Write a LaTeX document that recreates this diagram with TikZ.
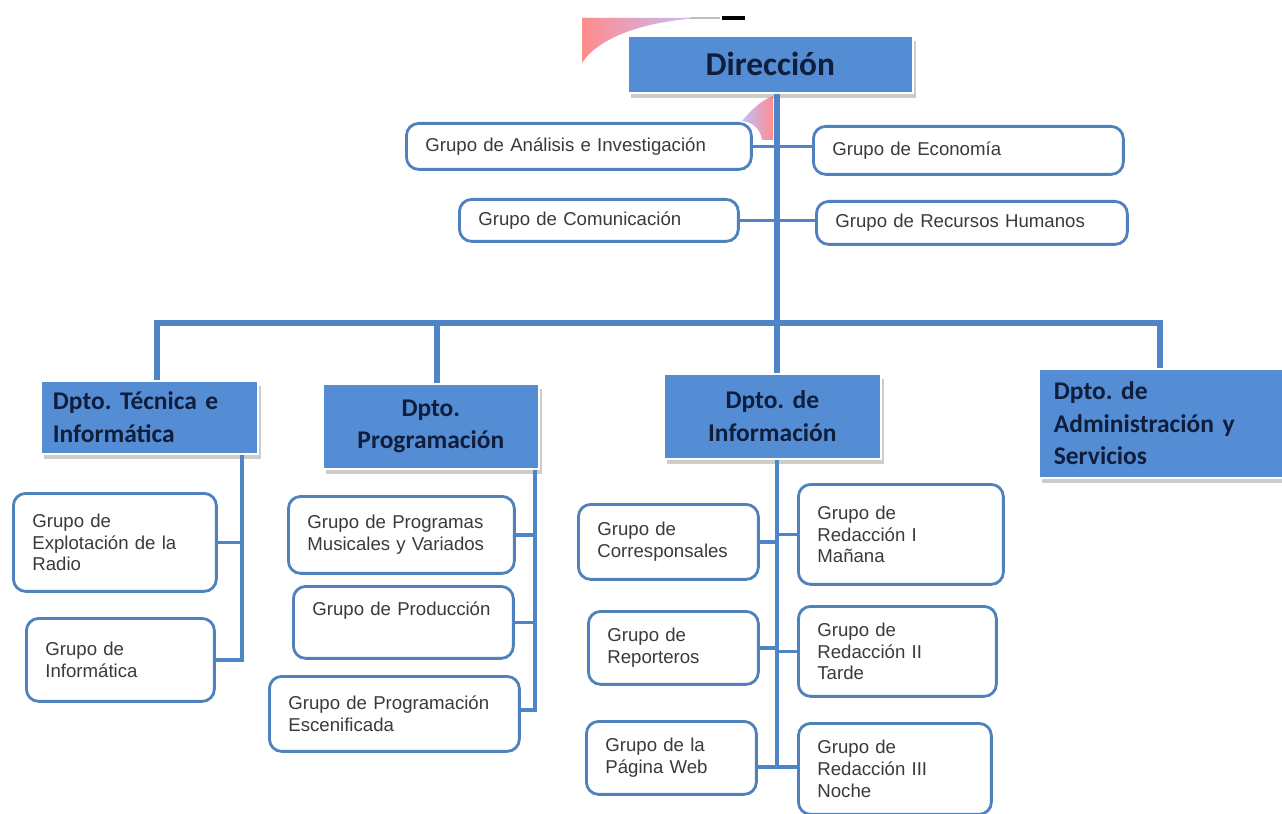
\documentclass[tikz,border=0pt]{standalone}
\usepackage{fontspec}
\setmainfont{Liberation Sans}
\newfontfamily\dptofont{Carlito}
\usetikzlibrary{shadows}
\definecolor{azulcaja}{RGB}{84,141,212}
\definecolor{azullinea}{RGB}{79,132,200}
\definecolor{bordegrupo}{RGB}{79,129,189}
\definecolor{textodpto}{RGB}{16,30,60}
\definecolor{textogrupo}{RGB}{58,58,58}
\frenchspacing
\begin{document}
\begin{tikzpicture}[x=0.02cm,y=-0.02cm,
  grupo/.style={draw=bordegrupo,line width=1.6pt,rounded corners=7pt,fill=white,anchor=north west,align=left,inner xsep=0.38cm,inner ysep=0pt,text=textogrupo,font=\fontsize{10.6}{12.4}\selectfont},
  dpto/.style={fill=azulcaja,draw=white,line width=1pt,anchor=north west,inner xsep=0.24cm,inner ysep=0pt,text=textodpto,font=\dptofont\bfseries\fontsize{14.5}{18.5}\selectfont,drop shadow={shadow xshift=2pt,shadow yshift=-3pt,opacity=0.4}},
  tronco/.style={draw=azullinea,line width=3.4pt},
  rama/.style={draw=azullinea,line width=2pt}]
\useasboundingbox (0,0) rectangle (1282,814);
\shade[left color=red!45,right color=blue!25!white] (582,18) -- (700,18) .. controls (650,21) and (600,35) .. (582,63) -- cycle;
\draw[gray!50,line width=0.6pt] (690,18) -- (720,18); \fill[black] (722,16) rectangle (745,20);
\shade[left color=blue!25!white,right color=red!45] (742,121) .. controls (752,109) and (762,100) .. (773,96) -- (773,140) -- (762,140) .. controls (761,130) and (753,122) .. (742,121) -- cycle;
\node[dpto,minimum width=5.7cm,minimum height=1.14cm,font=\dptofont\bfseries\fontsize{19}{22}\selectfont] (dir) at (627,35) {Dirección};
\node[grupo,text width=6.14cm,minimum height=0.92cm] (analisis) at (405,122) {Grupo de Análisis e Investigación};
\node[grupo,text width=5.44cm,minimum height=0.96cm] (economia) at (812,125) {Grupo de Economía};
\node[grupo,text width=4.82cm,minimum height=0.84cm] (comunic) at (458,198) {Grupo de Comunicación};
\node[grupo,text width=5.46cm,minimum height=0.86cm] (rrhh) at (815,200) {Grupo de Recursos Humanos};
\node[dpto,align=left,text width=3.86cm,minimum height=1.46cm] (tecnica) at (40,380) {Dpto. Técnica e\\Informática};
\node[dpto,align=center,text width=3.84cm,minimum height=1.7cm] (program) at (322,383) {Dpto.\\Programación};
\node[dpto,align=center,text width=3.86cm,minimum height=1.7cm] (info) at (663,373) {Dpto. de\\Información};
\node[dpto,align=left,inner xsep=0.3cm,text width=4.6cm,minimum height=2.18cm] (admin) at (1038,368) {Dpto. de\\Administración y\\Servicios};
\node[grupo,text width=3.3cm,minimum height=1.96cm] (explot) at (12,492) {Grupo de\\Explotación de la\\Radio};
\node[grupo,text width=3.0cm,minimum height=1.66cm] (informat) at (25,617) {Grupo de\\Informática};
\node[grupo,text width=3.76cm,minimum height=1.54cm] (musicales) at (287,495) {Grupo de Programas\\Musicales y Variados};
\node[grupo,text width=3.64cm,minimum height=1.44cm] (produccion) at (292,585) {Grupo de Producción\\\strut};
\node[grupo,text width=4.24cm,minimum height=1.5cm] (escenif) at (268,675) {Grupo de Programación\\Escenificada};
\node[grupo,text width=2.84cm,minimum height=1.5cm] (corresp) at (577,503) {Grupo de\\Corresponsales};
\node[grupo,text width=3.34cm,minimum height=2.0cm] (redI) at (797,483) {Grupo de\\Redacción I\\Mañana};
\node[grupo,text width=2.64cm,minimum height=1.46cm] (reporteros) at (587,610) {Grupo de\\Reporteros};
\node[grupo,text width=3.2cm,minimum height=1.8cm] (redII) at (797,605) {Grupo de\\Redacción II\\Tarde};
\node[grupo,text width=2.64cm,minimum height=1.46cm] (web) at (585,720) {Grupo de la\\Página Web};
\node[grupo,text width=3.1cm,minimum height=1.82cm] (redIII) at (797,722) {Grupo de\\Redacción III\\Noche};
\coordinate (b1) at (157,323); \coordinate (b2) at (437,323); \coordinate (b3) at (777,323); \coordinate (b4) at (1160,323);
\draw[tronco] (dir.south -| b3) -- (b3 |- info.north);
\draw[tronco] (b1 |- tecnica.north) -- (b1) -- (b4) -- (b4 |- admin.north);
\draw[tronco] (b2) -- (b2 |- program.north);
\draw[rama] (analisis.east) -- (analisis.east -| economia.west);
\draw[rama] (comunic.east) -- (comunic.east -| rrhh.west);
\coordinate (vt) at (242,660); \coordinate (vp) at (535,710); \coordinate (vi) at (777,767);
\draw[rama] (tecnica.south -| vt) -- (vt) -- (vt -| informat.east); \draw[rama] (explot.east) -- (explot.east -| vt);
\draw[rama] (program.south -| vp) -- (vp) -- (vp -| escenif.east);
\draw[rama] (musicales.east) -- (musicales.east -| vp); \draw[rama] (produccion.east) -- (produccion.east -| vp);
\draw[rama] (info.south -| vi) -- (vi);
\draw[rama] (corresp.east) -- (corresp.east -| vi); \draw[rama] (redI.west) -- (redI.west -| vi);
\draw[rama] (reporteros.east) -- (reporteros.east -| vi); \draw[rama] (redII.west) -- (redII.west -| vi);
\draw[rama] (vi -| web.east) -- (vi -| redIII.west);
\end{tikzpicture}
\end{document}
